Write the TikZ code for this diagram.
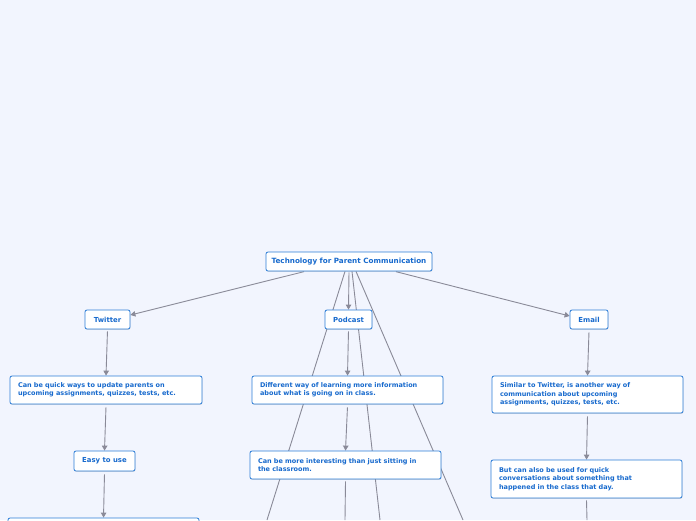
\documentclass[tikz,border=0pt]{standalone}
\usepackage{fontspec}
\setmainfont{DejaVu Sans}
\usetikzlibrary{arrows.meta,shadows,backgrounds}
\definecolor{bg}{RGB}{242,245,254}
\definecolor{bord}{RGB}{45,125,215}
\definecolor{txt}{RGB}{22,105,205}
\definecolor{edge}{RGB}{138,138,152}
\begin{document}
\begin{tikzpicture}[x=1pt,y=-1pt,
  box/.style={draw=bord, line width=0.8pt, fill=white, rounded corners=2pt, text=txt,
    font=\fontsize{6.5}{8.4}\selectfont\bfseries, inner sep=0pt,
    drop shadow={shadow xshift=0.4pt, shadow yshift=-0.8pt, opacity=0.25, fill=gray}},
  sbox/.style={box, align=center, font=\fontsize{6.9}{8.4}\selectfont\bfseries},
  lbox/.style={box, align=left, inner xsep=8pt},
  conn/.style={draw=edge, line width=0.9pt},
  arr/.style={conn, -{Triangle[length=5pt,width=5.5pt]}, shorten <=1pt}
]
\clip (0,0) rectangle (696,520);

\node[sbox, minimum width=166pt, minimum height=19pt, font=\fontsize{7.2}{8.4}\selectfont\bfseries] (root) at (349,261.5) {Technology for Parent Communication};
\node[sbox, minimum width=45pt, minimum height=19pt] (twitter) at (107.5,319.5) {Twitter};
\node[sbox, minimum width=47pt, minimum height=19pt] (podcast) at (348.5,319.5) {Podcast};
\node[sbox, minimum width=38pt, minimum height=19pt] (email) at (589,319.5) {Email};

\node[lbox, text width=176pt, minimum height=28pt] (tc1) at (106,390) {Can be quick ways to update parents on\\upcoming assignments, quizzes, tests, etc.};
\node[sbox, minimum width=61pt, minimum height=20pt] (easy) at (104.5,461) {Easy to use};
\node[lbox, text width=175pt, minimum height=40pt] (tc3) at (103.5,538) {};

\node[lbox, text width=175pt, minimum height=28pt] (pc1) at (347.5,390) {Different way of learning more information\\about what is going on in class.};
\node[lbox, text width=175pt, minimum height=28pt] (pc2) at (345.5,465) {Can be more interesting than just sitting in\\the classroom.};

\node[lbox, text width=175pt, minimum height=37pt] (ec1) at (587.5,394.5) {Similar to Twitter, is another way of\\communication about upcoming\\assignments, quizzes, tests, etc.};
\node[lbox, text width=175pt, minimum height=38pt] (ec2) at (586.5,479) {But can also be used for quick\\conversations about something that\\happened in the class that day.};

\coordinate (offA) at (267,520);
\coordinate (offB) at (380,520);
\coordinate (offC) at (463,520);
\coordinate (offP) at (345,520);
\coordinate (offE) at (587,520);

\begin{scope}[on background layer]
\fill[bg] (0,0) rectangle (696,520);
\draw[arr] ([xshift=-44pt]root.south) -- ([yshift=4.5pt]twitter.east);
\draw[arr] ([xshift=46pt]root.south) -- ([yshift=3.5pt]email.west);
\draw[arr] (root.south) -- (podcast.north);
\draw[conn] ([xshift=-4pt]root.south) -- (offA);
\draw[conn] ([xshift=3pt]root.south) -- (offB);
\draw[conn] ([xshift=7pt]root.south) -- (offC);

\draw[arr] ([yshift=-1pt]twitter.south) -- (tc1.north);
\draw[arr] ([yshift=-2pt]tc1.south) -- (easy.north);
\draw[arr] ([yshift=-2pt]easy.south) -- (tc3.north);

\draw[arr] ([yshift=-1pt]podcast.south) -- (pc1.north);
\draw[arr] ([yshift=-2pt]pc1.south) -- (pc2.north);
\draw[conn] ([yshift=-2pt]pc2.south) -- (offP);

\draw[arr] ([yshift=-2pt]email.south) -- (ec1.north);
\draw[arr] ([yshift=-2pt]ec1.south) -- (ec2.north);
\draw[conn] ([yshift=-2pt]ec2.south) -- (offE);
\end{scope}
\end{tikzpicture}
\end{document}
